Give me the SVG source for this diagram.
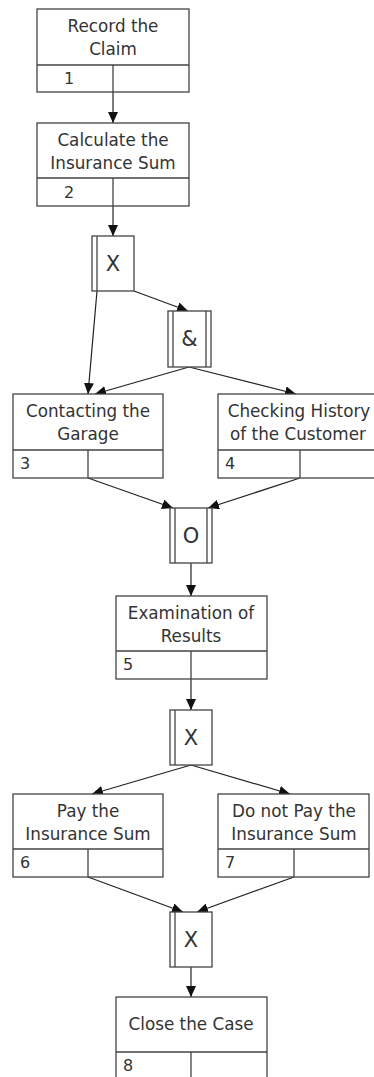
<svg xmlns="http://www.w3.org/2000/svg" width="374" height="1077" viewBox="0 0 374 1077">
  <style>
    .box { fill: #ffffff; stroke: #444444; stroke-width: 1.3; }
    .sep { fill: none; stroke: #444444; stroke-width: 1.3; }
    .gate { fill: #ffffff; stroke: #444444; stroke-width: 1.3; }
    .lbl { font-family: "DejaVu Sans", Verdana, sans-serif; font-size: 16.8px; fill: #333333; text-anchor: middle; }
    .num { font-family: "DejaVu Sans", Verdana, sans-serif; font-size: 16px; fill: #333333; }
    .op { font-family: "DejaVu Sans", Verdana, sans-serif; font-size: 21px; fill: #333333; text-anchor: middle; }
    .edge { fill: none; stroke: #222222; stroke-width: 1.2; marker-end: url(#arrow); }
  </style>
  <defs>
    <marker id="arrow" markerUnits="userSpaceOnUse" markerWidth="11" markerHeight="10" refX="11" refY="5" orient="auto">
      <path d="M0,0 L11,5 L0,10 z" fill="#111111"/>
    </marker>
  </defs>
  <rect width="374" height="1077" fill="#ffffff"/>

  <!-- connectors -->
  <g id="connectors">
    <line class="edge" x1="113" y1="92" x2="113" y2="123"/>
    <line class="edge" x1="113" y1="206" x2="113" y2="236"/>
    <line class="edge" x1="97" y1="291" x2="88" y2="394"/>
    <line class="edge" x1="134" y1="291" x2="188" y2="311"/>
    <line class="edge" x1="189" y1="367" x2="95" y2="394"/>
    <line class="edge" x1="189" y1="367" x2="296" y2="394"/>
    <line class="edge" x1="88" y1="478" x2="173" y2="508"/>
    <line class="edge" x1="300" y1="478" x2="208" y2="508"/>
    <line class="edge" x1="191" y1="563" x2="191" y2="596"/>
    <line class="edge" x1="191" y1="679" x2="191" y2="710"/>
    <line class="edge" x1="191" y1="765" x2="92" y2="794"/>
    <line class="edge" x1="191" y1="765" x2="290" y2="794"/>
    <line class="edge" x1="88" y1="877" x2="183" y2="912"/>
    <line class="edge" x1="294" y1="877" x2="197" y2="912"/>
    <line class="edge" x1="191" y1="967" x2="191" y2="997"/>
  </g>

  <!-- activities -->
  <g id="task1">
    <rect class="box" x="37" y="9" width="152" height="83"/>
    <path class="sep" d="M37,65 H189 M113,65 V92"/>
    <text class="lbl" x="113" y="32">Record the</text>
    <text class="lbl" x="113" y="55">Claim</text>
    <text class="num" x="64" y="84">1</text>
  </g>
  <g id="task2">
    <rect class="box" x="37" y="123" width="152" height="83"/>
    <path class="sep" d="M37,178 H189 M113,178 V206"/>
    <text class="lbl" x="113" y="146">Calculate the</text>
    <text class="lbl" x="113" y="169">Insurance Sum</text>
    <text class="num" x="64" y="198">2</text>
  </g>
  <g id="task3">
    <rect class="box" x="13" y="394" width="150" height="84"/>
    <path class="sep" d="M13,450 H163 M88,450 V478"/>
    <text class="lbl" x="88" y="417">Contacting the</text>
    <text class="lbl" x="88" y="440">Garage</text>
    <text class="num" x="20" y="469">3</text>
  </g>
  <g id="task4">
    <rect class="box" x="218" y="394" width="164" height="84"/>
    <path class="sep" d="M218,450 H382 M300,450 V478"/>
    <text class="lbl" x="299" y="417">Checking History</text>
    <text class="lbl" x="298" y="440">of the Customer</text>
    <text class="num" x="225" y="469">4</text>
  </g>
  <g id="task5">
    <rect class="box" x="116" y="596" width="151" height="83"/>
    <path class="sep" d="M116,651 H267 M191,651 V679"/>
    <text class="lbl" x="191" y="619">Examination of</text>
    <text class="lbl" x="191" y="642">Results</text>
    <text class="num" x="123" y="670">5</text>
  </g>
  <g id="task6">
    <rect class="box" x="13" y="794" width="150" height="83"/>
    <path class="sep" d="M13,849 H163 M88,849 V877"/>
    <text class="lbl" x="88" y="817">Pay the</text>
    <text class="lbl" x="88" y="840">Insurance Sum</text>
    <text class="num" x="20" y="868">6</text>
  </g>
  <g id="task7">
    <rect class="box" x="218" y="794" width="151" height="83"/>
    <path class="sep" d="M218,849 H369 M294,849 V877"/>
    <text class="lbl" x="294" y="817">Do not Pay the</text>
    <text class="lbl" x="294" y="840">Insurance Sum</text>
    <text class="num" x="225" y="868">7</text>
  </g>
  <g id="task8">
    <rect class="box" x="116" y="997" width="151" height="83"/>
    <path class="sep" d="M116,1052 H267 M191,1052 V1080"/>
    <text class="lbl" x="191" y="1030">Close the Case</text>
    <text class="num" x="123" y="1071">8</text>
  </g>

  <!-- junctions -->
  <g id="xor1">
    <rect class="gate" x="92" y="236" width="42" height="55"/>
    <line class="sep" x1="97" y1="236" x2="97" y2="291"/>
    <text class="op" x="113" y="271">X</text>
  </g>
  <g id="and1">
    <rect class="gate" x="168" y="311" width="43" height="56"/>
    <path class="sep" d="M173,311 V367 M206,311 V367"/>
    <text class="op" x="189.5" y="346">&amp;</text>
  </g>
  <g id="or1">
    <rect class="gate" x="170" y="508" width="42" height="55"/>
    <path class="sep" d="M175,508 V563 M207,508 V563"/>
    <text class="op" x="191" y="543">O</text>
  </g>
  <g id="xor2">
    <rect class="gate" x="170" y="710" width="42" height="55"/>
    <line class="sep" x1="175" y1="710" x2="175" y2="765"/>
    <text class="op" x="191" y="745">X</text>
  </g>
  <g id="xor3">
    <rect class="gate" x="170" y="912" width="42" height="55"/>
    <line class="sep" x1="175" y1="912" x2="175" y2="967"/>
    <text class="op" x="191" y="947">X</text>
  </g>
</svg>
